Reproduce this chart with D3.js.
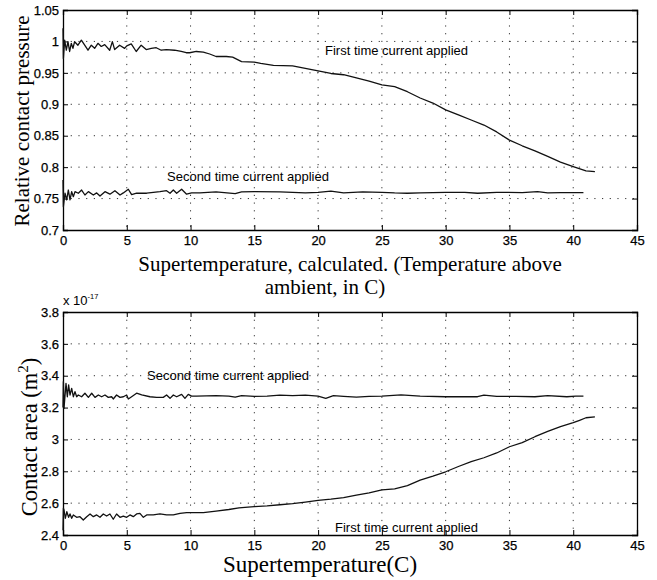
<!DOCTYPE html>
<html>
<head>
<meta charset="utf-8">
<script src="https://cdn.jsdelivr.net/npm/d3@7"></script>
<style>
  body { margin: 0; background: #fff; }
  svg { display: block; }
  .tick text { font-family: "Liberation Sans", Arial, sans-serif; font-size: 13px; fill: #000; stroke: #000; stroke-width: 0.25; }
  .domain { stroke: #000; }
  .tick line { stroke: #000; }
  .grid line { stroke: #333; stroke-width: 1; stroke-dasharray: 1.2 6.5; }
  .lbl { font-family: "Liberation Serif", "Times New Roman", serif; fill: #000; }
  .note { font-family: "Liberation Sans", Arial, sans-serif; font-size: 13px; fill: #000; }
</style>
</head>
<body>
<svg width="657" height="580"></svg>
<script>
// tick values
const xTicks = [0, 5, 10, 15, 20, 25, 30, 35, 40, 45];
const pressureTicks = [0.7, 0.75, 0.8, 0.85, 0.9, 0.95, 1, 1.05];
const areaTicks = [2.4, 2.6, 2.8, 3, 3.2, 3.4, 3.6, 3.8];

// relative contact pressure, first time current applied
const pFirstT = [0, 0.03, 0.13, 0.26, 0.39, 0.52, 0.65, 0.78, 0.91, 1.17, 1.44, 1.7, 1.96, 2.22, 2.48, 2.74, 3.0, 3.27, 3.66, 3.87, 4.05, 4.44, 4.83, 5.0, 5.35, 5.74, 6.13, 6.52, 6.92, 7.31, 7.7, 8.1, 8.75, 9.27, 9.66, 9.93, 10.45, 11, 11.5, 12, 12.8, 13.3, 14, 15, 15.5, 16.5, 18, 19, 20, 21, 22, 23, 24, 25, 26, 27, 28, 29, 30, 31, 32, 33, 34, 35, 36, 37, 38, 39, 40, 41, 41.7];
const pFirst = [1.021, 0.973, 1.002, 0.986, 0.9996, 0.984, 0.997, 0.989, 0.9996, 0.994, 1.002, 0.994, 0.986, 0.994, 0.989, 0.997, 0.992, 0.995, 0.986, 0.9996, 0.987, 0.994, 0.989, 0.993, 0.996, 0.984, 0.994, 0.987, 0.989, 0.99, 0.986, 0.987, 0.986, 0.984, 0.982, 0.982, 0.984, 0.983, 0.98, 0.976, 0.976, 0.975, 0.968, 0.967, 0.965, 0.962, 0.961, 0.957, 0.953, 0.949, 0.947, 0.942, 0.937, 0.931, 0.928, 0.92, 0.91, 0.902, 0.891, 0.883, 0.875, 0.867, 0.856, 0.843, 0.834, 0.826, 0.817, 0.808, 0.801, 0.794, 0.793];

// relative contact pressure, second time current applied
const pSecondT = [0, 0.03, 0.157, 0.287, 0.418, 0.549, 0.68, 0.81, 0.94, 1.2, 1.46, 1.72, 1.99, 2.38, 2.64, 2.9, 3.29, 3.68, 4.07, 4.47, 4.73, 5.12, 5.38, 5.77, 6.56, 7.6, 8.12, 8.39, 8.65, 8.91, 9.3, 9.69, 10.08, 10.73, 12, 13.5, 14, 15, 17, 19, 20, 21, 22, 23.5, 25, 26, 27, 28, 30, 31.5, 32.5, 34, 36, 37.2, 38, 39, 40.8];
const pSecond = [0.7796, 0.737, 0.7585, 0.748, 0.7636, 0.748, 0.761, 0.753, 0.761, 0.7585, 0.7636, 0.7557, 0.761, 0.7557, 0.759, 0.754, 0.761, 0.757, 0.7625, 0.7557, 0.759, 0.7648, 0.7563, 0.7585, 0.7585, 0.761, 0.7625, 0.7585, 0.7636, 0.7585, 0.7648, 0.757, 0.759, 0.759, 0.7605, 0.758, 0.7605, 0.761, 0.7605, 0.759, 0.76, 0.762, 0.759, 0.7605, 0.76, 0.759, 0.7585, 0.759, 0.76, 0.76, 0.7585, 0.76, 0.7595, 0.761, 0.759, 0.7595, 0.7595];

// contact area (x 1e-17 m^2), second time current applied
const aSecondT = [0, 0.03, 0.078, 0.235, 0.34, 0.44, 0.55, 0.68, 0.81, 0.94, 1.07, 1.2, 1.46, 1.72, 1.99, 2.25, 2.51, 2.77, 3.03, 3.29, 3.55, 3.81, 3.94, 4.2, 4.47, 4.73, 4.99, 5.12, 5.38, 5.77, 6.17, 6.82, 7.34, 7.86, 8.12, 8.39, 8.65, 8.91, 9.3, 9.56, 9.82, 10.08, 10.47, 12, 13, 13.5, 14, 15, 16, 17, 18, 19, 20, 20.6, 21.2, 22, 23, 24, 25, 26.5, 28, 30, 32.5, 33, 34, 35.5, 37, 38, 39.5, 40.2, 40.8];
const aSecond = [3.2, 3.363, 3.195, 3.352, 3.268, 3.342, 3.279, 3.321, 3.268, 3.30, 3.268, 3.279, 3.268, 3.29, 3.264, 3.29, 3.264, 3.279, 3.268, 3.279, 3.264, 3.268, 3.254, 3.279, 3.264, 3.268, 3.279, 3.254, 3.268, 3.29, 3.279, 3.268, 3.264, 3.264, 3.279, 3.258, 3.279, 3.268, 3.283, 3.258, 3.283, 3.272, 3.272, 3.275, 3.272, 3.265, 3.275, 3.27, 3.272, 3.278, 3.275, 3.278, 3.272, 3.258, 3.275, 3.27, 3.265, 3.27, 3.272, 3.28, 3.272, 3.268, 3.268, 3.278, 3.27, 3.27, 3.268, 3.275, 3.268, 3.272, 3.272];

// contact area (x 1e-17 m^2), first time current applied
const aFirstT = [0, 0.03, 0.08, 0.18, 0.3, 0.44, 0.55, 0.68, 0.81, 1.07, 1.33, 1.59, 1.86, 2.12, 2.38, 2.64, 2.9, 3.16, 3.42, 3.68, 3.94, 4.2, 4.47, 4.73, 4.99, 5.25, 5.51, 5.77, 6.03, 6.3, 6.56, 7.08, 7.6, 8.12, 8.65, 9.17, 9.69, 10.2, 11, 12, 13, 13.8, 14.5, 15, 16, 17, 18, 19, 20, 21, 22, 23, 24, 25, 26, 27, 28, 29, 30, 31, 32, 33, 34, 35, 36, 37, 38, 39, 40, 40.5, 41, 41.7];
const aFirst = [2.43, 2.568, 2.557, 2.505, 2.546, 2.511, 2.532, 2.505, 2.526, 2.511, 2.515, 2.494, 2.515, 2.532, 2.515, 2.526, 2.511, 2.532, 2.519, 2.532, 2.499, 2.532, 2.511, 2.519, 2.511, 2.526, 2.515, 2.532, 2.536, 2.511, 2.526, 2.526, 2.532, 2.526, 2.526, 2.536, 2.54, 2.54, 2.54, 2.55, 2.56, 2.57, 2.575, 2.578, 2.583, 2.59, 2.597, 2.607, 2.617, 2.625, 2.635, 2.65, 2.665, 2.683, 2.69, 2.71, 2.745, 2.77, 2.797, 2.83, 2.86, 2.885, 2.915, 2.954, 2.98, 3.017, 3.05, 3.08, 3.105, 3.12, 3.136, 3.142];

const svg = d3.select("svg");

function panel(y0, y1, yDomain, yTicks, yFmt) {
    const x = d3.scaleLinear().domain([0, 45]).range([63, 637]);
    const y = d3.scaleLinear().domain(yDomain).range([y1, y0]);
    const g = svg.append("g");

    // dotted grid
    const grid = g.append("g").attr("class", "grid");
    grid.selectAll(".gx").data(xTicks.slice(1, -1)).enter().append("line")
        .attr("x1", d => x(d)).attr("x2", d => x(d))
        .attr("y1", y0).attr("y2", y1);
    grid.selectAll(".gy").data(yTicks.slice(1, -1)).enter().append("line")
        .attr("x1", 63).attr("x2", 637)
        .attr("y1", d => y(d)).attr("y2", d => y(d));

    // axes with inward ticks
    g.append("g").attr("transform", `translate(0,${y1})`)
        .call(d3.axisBottom(x).tickValues(xTicks).tickSize(-5).tickPadding(6).tickFormat(d3.format("d")));
    g.append("g").attr("transform", `translate(0,${y0})`)
        .call(d3.axisTop(x).tickValues(xTicks).tickSize(-5).tickFormat(""));
    g.append("g").attr("transform", "translate(63,0)")
        .call(d3.axisLeft(y).tickValues(yTicks).tickSize(-5).tickPadding(4).tickFormat(yFmt));
    g.append("g").attr("transform", "translate(637,0)")
        .call(d3.axisRight(y).tickValues(yTicks).tickSize(-5).tickFormat(""));
    g.selectAll(".domain").attr("stroke-width", 1.3);

    return { g, x, y };
}

function curve(p, xs, ys) {
    const pts = xs.map((t, i) => [t, ys[i]]);
    p.g.append("path")
        .datum(pts)
        .attr("fill", "none")
        .attr("stroke", "#111")
        .attr("stroke-width", 1.3)
        .attr("stroke-linejoin", "round")
        .attr("d", d3.line().x(d => p.x(d[0])).y(d => p.y(d[1])));
}

const fmt = d => String(+d.toFixed(2));

// pressure panel
const pPanel = panel(10, 230, [0.7, 1.05], pressureTicks, fmt);
curve(pPanel, pFirstT, pFirst);
curve(pPanel, pSecondT, pSecond);

pPanel.g.append("text").attr("class", "note").attr("x", 325).attr("y", 55).text("First time current applied");
pPanel.g.append("text").attr("class", "note").attr("x", 167).attr("y", 181).text("Second time current applied");

pPanel.g.append("text").attr("class", "lbl").attr("font-size", 21)
    .attr("text-anchor", "middle")
    .attr("transform", "translate(29,121) rotate(-90)")
    .text("Relative contact pressure");
pPanel.g.append("text").attr("class", "lbl").attr("font-size", 21)
    .attr("text-anchor", "middle").attr("x", 350).attr("y", 271)
    .text("Supertemperature, calculated. (Temperature above");
pPanel.g.append("text").attr("class", "lbl").attr("font-size", 21)
    .attr("text-anchor", "middle").attr("x", 325).attr("y", 294)
    .text("ambient, in C)");

// area panel
const aPanel = panel(312, 535, [2.4, 3.8], areaTicks, fmt);
curve(aPanel, aSecondT, aSecond);
curve(aPanel, aFirstT, aFirst);

aPanel.g.append("text").attr("class", "note").attr("x", 147).attr("y", 380).text("Second time current applied");
aPanel.g.append("text").attr("class", "note").attr("x", 335).attr("y", 532).text("First time current applied");

const mult = aPanel.g.append("text").attr("class", "note").attr("font-size", 10).attr("x", 63).attr("y", 305);
mult.append("tspan").text("x 10");
mult.append("tspan").attr("font-size", 7.5).attr("dy", -6).text("-17");

const yl = aPanel.g.append("text").attr("class", "lbl").attr("font-size", 22.5)
    .attr("text-anchor", "middle")
    .attr("transform", "translate(37,437) rotate(-90)");
yl.append("tspan").text("Contact area (m");
yl.append("tspan").attr("font-size", 15).attr("dy", -9).text("2");
yl.append("tspan").attr("dy", 9).text(")");

aPanel.g.append("text").attr("class", "lbl").attr("font-size", 23)
    .attr("text-anchor", "middle").attr("x", 320).attr("y", 572)
    .text("Supertemperature(C)");
</script>
</body>
</html>
